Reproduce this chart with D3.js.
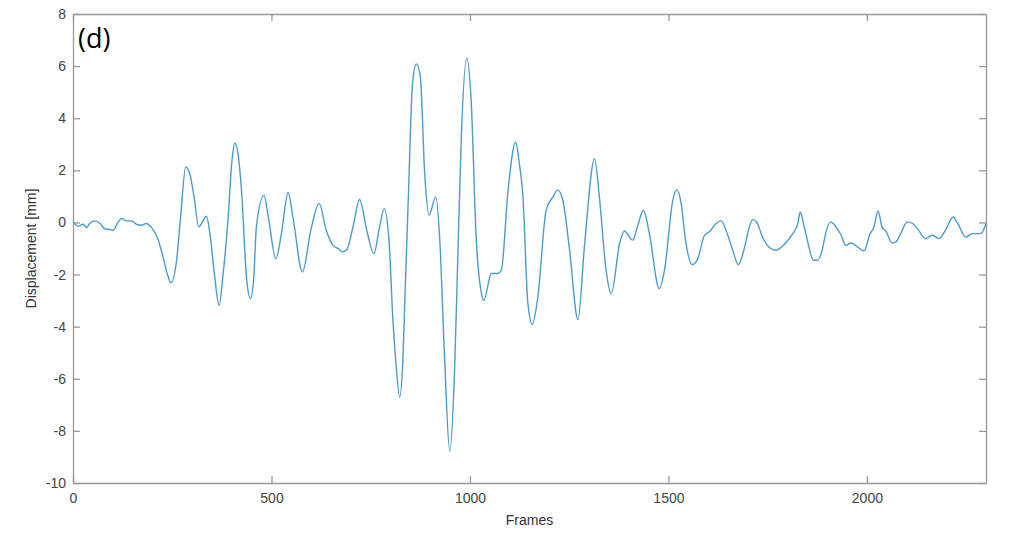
<!DOCTYPE html>
<html lang="en">
<head>
    <meta charset="UTF-8">
    <title>Displacement (d)</title>
    <script src="https://d3js.org/d3.v7.min.js"></script>
    <style>
        body { margin: 0; background: #fff; }
        .axis path, .axis line { stroke: #999; stroke-width: 1.3px; }
        .axis text { fill: #444; font: 14px "Liberation Sans", Arial, sans-serif; }
        .label { fill: #333; font: 14px "Liberation Sans", Arial, sans-serif; }
        .trace { fill: none; stroke: #4b9cc9; stroke-width: 1.4px; }
    </style>
</head>
<body>
<svg width="1017" height="533"></svg>
<script>
// frame numbers and displacement [mm]
const frames = [0, 13, 26, 34, 43, 55, 68, 81, 93, 101, 114, 122, 135, 148, 160, 173, 184, 198, 212, 227,
    238, 247, 261, 271, 284, 294, 305, 317, 326, 336, 345, 357, 368, 378, 391, 400, 408, 416, 425, 437,
    447, 455, 462, 481, 492, 511, 525, 542, 554, 578, 600, 620, 638, 655, 668, 679, 690, 705, 722, 740,
    758, 772, 784, 796, 806, 813, 823, 831, 837, 844, 856, 865, 875, 886, 897, 914, 924, 936, 949, 961,
    970, 978, 992, 1003, 1016, 1029, 1035, 1054, 1070, 1079, 1096, 1115, 1124, 1133, 1146, 1157, 1171, 1192, 1209, 1221,
    1234, 1251, 1272, 1289, 1314, 1326, 1343, 1356, 1377, 1389, 1410, 1423, 1437, 1452, 1477, 1490, 1511, 1521, 1532, 1543,
    1560, 1574, 1591, 1603, 1620, 1633, 1645, 1662, 1676, 1691, 1704, 1712, 1722, 1737, 1754, 1771, 1792, 1813, 1826, 1832,
    1842, 1851, 1865, 1876, 1887, 1897, 1909, 1922, 1935, 1947, 1960, 1976, 1993, 2008, 2018, 2028, 2038, 2049, 2063, 2073,
    2085, 2102, 2115, 2127, 2148, 2165, 2182, 2199, 2217, 2229, 2249, 2266, 2287, 2300];
const displacement = [0.02, -0.15, -0.07, -0.2, -0.02, 0.06, -0.04, -0.25, -0.27, -0.3, 0.02, 0.15, 0.06, 0.06, -0.07, -0.11, -0.04, -0.2, -0.56, -1.33,
    -2.0, -2.31, -1.45, 0.21, 2.13, 1.88, 0.98, -0.17, 0.02, 0.24, -0.43, -2.09, -3.18, -2.0, 0.21, 2.3, 3.05, 2.6, 1.11, -2.09,
    -2.92, -2.2, -0.17, 1.04, 0.21, -1.39, -0.43, 1.15, 0.21, -1.9, -0.23, 0.73, -0.3, -0.88, -1.0, -1.13, -1.04, -0.2, 0.88, -0.3,
    -1.2, -0.2, 0.53, -0.68, -3.76, -5.29, -6.7, -5.29, -2.5, 0.6, 5.46, 6.08, 5.59, 1.88, 0.28, 0.98, -0.68, -5.17, -8.78, -5.8,
    -1.0, 3.16, 6.3, 4.69, -0.68, -2.73, -2.99, -1.96, -1.96, -1.84, 1.24, 3.09, 2.3, 1.11, -3.12, -3.91, -2.86, 0.47, 0.98, 1.24,
    0.85, -1.07, -3.73, -0.81, 2.45, 0.98, -1.84, -2.73, -0.81, -0.33, -0.68, -0.11, 0.47, -0.43, -2.54, -1.84, 0.85, 1.26, 0.73, -0.68,
    -1.62, -1.39, -0.49, -0.36, -0.04, 0.06, -0.3, -1.07, -1.62, -1.0, -0.17, 0.11, 0.02, -0.56, -0.96, -1.07, -0.84, -0.43, -0.04, 0.4,
    -0.17, -0.75, -1.45, -1.45, -1.07, -0.36, 0.02, -0.17, -0.49, -0.88, -0.79, -0.94, -1.09, -0.43, -0.17, 0.44, -0.17, -0.36, -0.79, -0.75,
    -0.43, 0.02, -0.04, -0.23, -0.62, -0.49, -0.62, -0.27, 0.21, -0.04, -0.56, -0.43, -0.43, -0.04];
const xTicks = [0, 500, 1000, 1500, 2000];
const yTicks = [-10, -8, -6, -4, -2, 0, 2, 4, 6, 8];

const margin = {top: 14, right: 31, bottom: 50, left: 73};
const width = 1017 - margin.left - margin.right;
const height = 533 - margin.top - margin.bottom;

const svg = d3.select("svg")
  .append("g")
    .attr("transform", "translate(" + margin.left + "," + margin.top + ")");

const x = d3.scaleLinear().domain([0, 2300]).range([0, width]);
const y = d3.scaleLinear().domain([-10, 8]).range([height, 0]);

const data = frames.map((f, i) => ({frame: f, value: displacement[i]}));
const plain = d => String(d);   // plain hyphen minus, no thousands comma

// box with inward ticks on all four sides
svg.append("g").attr("class", "axis")
    .attr("transform", "translate(0," + height + ")")
    .call(d3.axisBottom(x).tickValues(xTicks).tickFormat(plain).tickSizeInner(-7).tickSizeOuter(0).tickPadding(10));
svg.append("g").attr("class", "axis")
    .call(d3.axisTop(x).tickValues(xTicks).tickSizeInner(-7).tickSizeOuter(0).tickFormat(""));
svg.append("g").attr("class", "axis")
    .call(d3.axisLeft(y).tickValues(yTicks).tickFormat(plain).tickSizeInner(-7).tickSizeOuter(0).tickPadding(7));
svg.append("g").attr("class", "axis")
    .attr("transform", "translate(" + width + ",0)")
    .call(d3.axisRight(y).tickValues(yTicks).tickSizeInner(-7).tickSizeOuter(0).tickFormat(""));

const line = d3.line()
    .x(d => x(d.frame))
    .y(d => y(d.value))
    .curve(d3.curveMonotoneX);

svg.append("path")
    .datum(data)
    .attr("class", "trace")
    .attr("d", line);

svg.append("text")
    .attr("class", "label")
    .attr("x", width / 2)
    .attr("y", height + 42)
    .attr("text-anchor", "middle")
    .text("Frames");

svg.append("text")
    .attr("class", "label")
    .attr("transform", "translate(-37," + (height / 2) + ") rotate(-90)")
    .attr("text-anchor", "middle")
    .text("Displacement [mm]");

svg.append("text")
    .attr("x", 5)
    .attr("y", 34)
    .style("font", "27px 'Open Sans', sans-serif")
    .style("fill", "#000")
    .text("(d)");
</script>
</body>
</html>
